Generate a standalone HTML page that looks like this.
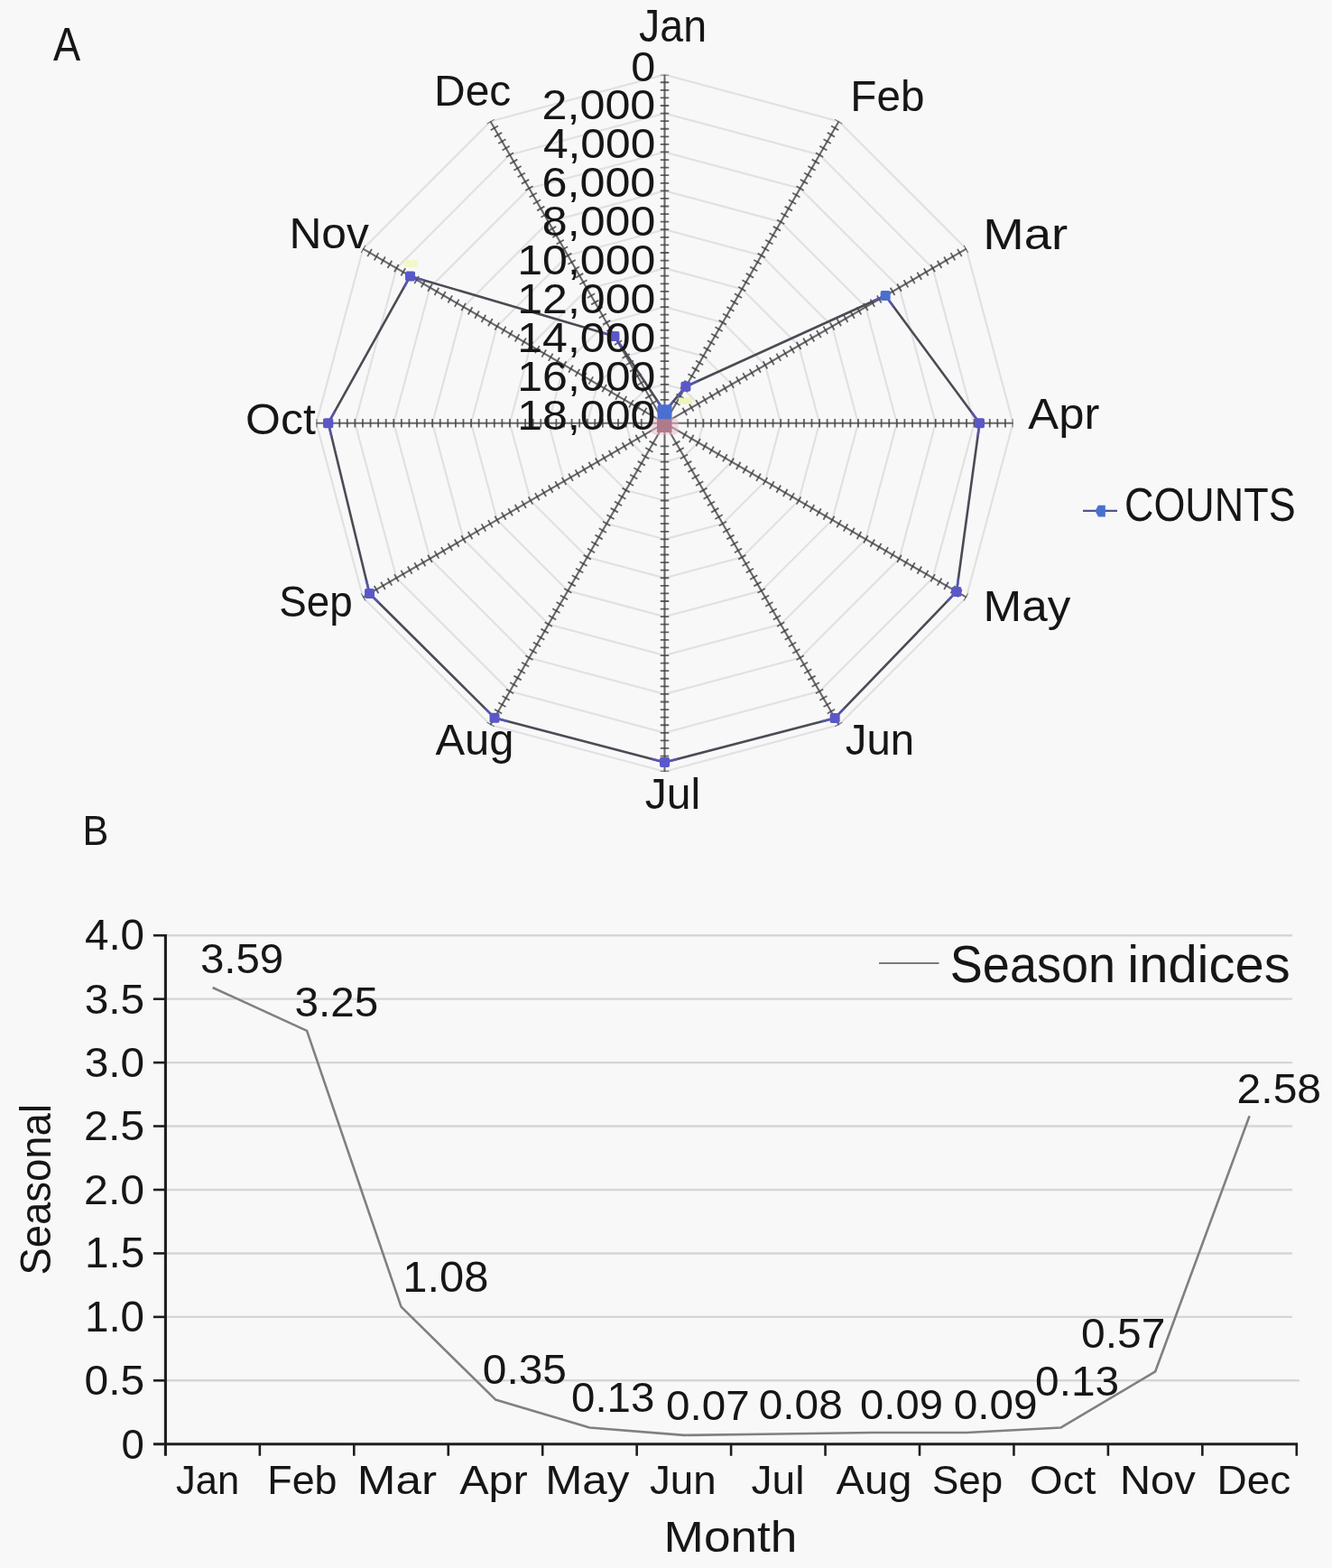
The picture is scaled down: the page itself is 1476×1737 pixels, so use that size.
<!DOCTYPE html>
<html><head><meta charset="utf-8"><title>Figure</title>
<style>html,body{margin:0;padding:0;background:#f8f8f8;}svg{display:block}text{font-family:"Liberation Sans",sans-serif;}</style>
</head><body>
<svg width="1476" height="1737" viewBox="0 0 1476 1737">
<rect width="1476" height="1737" fill="#f8f8f8"/>
<polygon points="736.50,82.70 929.50,134.41 1070.79,275.70 1122.50,468.70 1070.79,661.70 929.50,802.99 736.50,854.70 543.50,802.99 402.21,661.70 350.50,468.70 402.21,275.70 543.50,134.41" fill="none" stroke="#e1e1e1" stroke-width="2.2"/>
<polygon points="736.50,125.59 908.06,171.56 1033.64,297.14 1079.61,468.70 1033.64,640.26 908.06,765.84 736.50,811.81 564.94,765.84 439.36,640.26 393.39,468.70 439.36,297.14 564.94,171.56" fill="none" stroke="#e1e1e1" stroke-width="2.2"/>
<polygon points="736.50,168.48 886.61,208.70 996.50,318.59 1036.72,468.70 996.50,618.81 886.61,728.70 736.50,768.92 586.39,728.70 476.50,618.81 436.28,468.70 476.50,318.59 586.39,208.70" fill="none" stroke="#e1e1e1" stroke-width="2.2"/>
<polygon points="736.50,211.37 865.17,245.84 959.36,340.03 993.83,468.70 959.36,597.37 865.17,691.56 736.50,726.03 607.83,691.56 513.64,597.37 479.17,468.70 513.64,340.03 607.83,245.84" fill="none" stroke="#e1e1e1" stroke-width="2.2"/>
<polygon points="736.50,254.26 843.72,282.99 922.21,361.48 950.94,468.70 922.21,575.92 843.72,654.41 736.50,683.14 629.28,654.41 550.79,575.92 522.06,468.70 550.79,361.48 629.28,282.99" fill="none" stroke="#e1e1e1" stroke-width="2.2"/>
<polygon points="736.50,297.14 822.28,320.13 885.07,382.92 908.06,468.70 885.07,554.48 822.28,617.27 736.50,640.26 650.72,617.27 587.93,554.48 564.94,468.70 587.93,382.92 650.72,320.13" fill="none" stroke="#e1e1e1" stroke-width="2.2"/>
<polygon points="736.50,340.03 800.83,357.27 847.93,404.37 865.17,468.70 847.93,533.03 800.83,580.13 736.50,597.37 672.17,580.13 625.07,533.03 607.83,468.70 625.07,404.37 672.17,357.27" fill="none" stroke="#e1e1e1" stroke-width="2.2"/>
<polygon points="736.50,382.92 779.39,394.41 810.79,425.81 822.28,468.70 810.79,511.59 779.39,542.99 736.50,554.48 693.61,542.99 662.21,511.59 650.72,468.70 662.21,425.81 693.61,394.41" fill="none" stroke="#e1e1e1" stroke-width="2.2"/>
<polygon points="736.50,425.81 757.94,431.56 773.64,447.26 779.39,468.70 773.64,490.14 757.94,505.84 736.50,511.59 715.06,505.84 699.36,490.14 693.61,468.70 699.36,447.26 715.06,431.56" fill="none" stroke="#e1e1e1" stroke-width="2.2"/>
<line x1="736.5" y1="468.7" x2="736.50" y2="82.70" stroke="#6a6a6e" stroke-width="2.1"/>
<line x1="736.50" y1="443.87" x2="736.50" y2="82.70" stroke="#3c3c40" stroke-opacity="0.8" stroke-width="9.5" stroke-dasharray="1.8 6.778"/>
<line x1="736.5" y1="468.7" x2="929.50" y2="134.41" stroke="#6a6a6e" stroke-width="2.1"/>
<line x1="748.92" y1="447.19" x2="929.50" y2="134.41" stroke="#3c3c40" stroke-opacity="0.8" stroke-width="9.5" stroke-dasharray="1.8 6.778"/>
<line x1="736.5" y1="468.7" x2="1070.79" y2="275.70" stroke="#6a6a6e" stroke-width="2.1"/>
<line x1="758.01" y1="456.28" x2="1070.79" y2="275.70" stroke="#3c3c40" stroke-opacity="0.8" stroke-width="9.5" stroke-dasharray="1.8 6.778"/>
<line x1="736.5" y1="468.7" x2="1122.50" y2="468.70" stroke="#6a6a6e" stroke-width="2.1"/>
<line x1="761.33" y1="468.70" x2="1122.50" y2="468.70" stroke="#3c3c40" stroke-opacity="0.8" stroke-width="9.5" stroke-dasharray="1.8 6.778"/>
<line x1="736.5" y1="468.7" x2="1070.79" y2="661.70" stroke="#6a6a6e" stroke-width="2.1"/>
<line x1="758.01" y1="481.12" x2="1070.79" y2="661.70" stroke="#3c3c40" stroke-opacity="0.8" stroke-width="9.5" stroke-dasharray="1.8 6.778"/>
<line x1="736.5" y1="468.7" x2="929.50" y2="802.99" stroke="#6a6a6e" stroke-width="2.1"/>
<line x1="748.92" y1="490.21" x2="929.50" y2="802.99" stroke="#3c3c40" stroke-opacity="0.8" stroke-width="9.5" stroke-dasharray="1.8 6.778"/>
<line x1="736.5" y1="468.7" x2="736.50" y2="854.70" stroke="#6a6a6e" stroke-width="2.1"/>
<line x1="736.50" y1="493.53" x2="736.50" y2="854.70" stroke="#3c3c40" stroke-opacity="0.8" stroke-width="9.5" stroke-dasharray="1.8 6.778"/>
<line x1="736.5" y1="468.7" x2="543.50" y2="802.99" stroke="#6a6a6e" stroke-width="2.1"/>
<line x1="724.08" y1="490.21" x2="543.50" y2="802.99" stroke="#3c3c40" stroke-opacity="0.8" stroke-width="9.5" stroke-dasharray="1.8 6.778"/>
<line x1="736.5" y1="468.7" x2="402.21" y2="661.70" stroke="#6a6a6e" stroke-width="2.1"/>
<line x1="714.99" y1="481.12" x2="402.21" y2="661.70" stroke="#3c3c40" stroke-opacity="0.8" stroke-width="9.5" stroke-dasharray="1.8 6.778"/>
<line x1="736.5" y1="468.7" x2="350.50" y2="468.70" stroke="#6a6a6e" stroke-width="2.1"/>
<line x1="711.67" y1="468.70" x2="350.50" y2="468.70" stroke="#3c3c40" stroke-opacity="0.8" stroke-width="9.5" stroke-dasharray="1.8 6.778"/>
<line x1="736.5" y1="468.7" x2="402.21" y2="275.70" stroke="#6a6a6e" stroke-width="2.1"/>
<line x1="714.99" y1="456.28" x2="402.21" y2="275.70" stroke="#3c3c40" stroke-opacity="0.8" stroke-width="9.5" stroke-dasharray="1.8 6.778"/>
<line x1="736.5" y1="468.7" x2="543.50" y2="134.41" stroke="#6a6a6e" stroke-width="2.1"/>
<line x1="724.08" y1="447.19" x2="543.50" y2="134.41" stroke="#3c3c40" stroke-opacity="0.8" stroke-width="9.5" stroke-dasharray="1.8 6.778"/>
<polygon points="736.50,456.20 759.90,428.17 981.15,327.45 1085.50,468.70 1059.96,655.45 925.15,795.45 736.50,844.50 548.00,795.19 409.49,657.50 363.80,468.70 454.52,305.90 681.00,372.57" fill="none" stroke="#4b4b55" stroke-width="2.6" stroke-linejoin="round"/>
<rect x="721.5" y="462.7" width="30" height="19" rx="5" fill="#e9b8c4" opacity="0.5"/>
<rect x="728.0" y="464.0" width="16.5" height="15" fill="#b07a8c"/>
<line x1="736.50" y1="456.20" x2="728.21" y2="443.70" stroke="#5a58c8" stroke-width="2.6" stroke-opacity="0.75"/>
<line x1="736.50" y1="456.20" x2="745.86" y2="444.99" stroke="#5a58c8" stroke-width="2.6" stroke-opacity="0.75"/>
<line x1="759.90" y1="428.17" x2="750.54" y2="439.38" stroke="#5a58c8" stroke-width="2.6" stroke-opacity="0.75"/>
<line x1="759.90" y1="428.17" x2="773.55" y2="421.96" stroke="#5a58c8" stroke-width="2.6" stroke-opacity="0.75"/>
<line x1="981.15" y1="327.45" x2="967.50" y2="333.66" stroke="#5a58c8" stroke-width="2.6" stroke-opacity="0.75"/>
<line x1="981.15" y1="327.45" x2="990.07" y2="339.51" stroke="#5a58c8" stroke-width="2.6" stroke-opacity="0.75"/>
<line x1="1085.50" y1="468.70" x2="1076.59" y2="456.64" stroke="#5a58c8" stroke-width="2.6" stroke-opacity="0.75"/>
<line x1="1085.50" y1="468.70" x2="1083.47" y2="483.56" stroke="#5a58c8" stroke-width="2.6" stroke-opacity="0.75"/>
<line x1="1059.96" y1="655.45" x2="1061.99" y2="640.59" stroke="#5a58c8" stroke-width="2.6" stroke-opacity="0.75"/>
<line x1="1059.96" y1="655.45" x2="1049.56" y2="666.26" stroke="#5a58c8" stroke-width="2.6" stroke-opacity="0.75"/>
<line x1="925.15" y1="795.45" x2="935.55" y2="784.65" stroke="#5a58c8" stroke-width="2.6" stroke-opacity="0.75"/>
<line x1="925.15" y1="795.45" x2="910.63" y2="799.23" stroke="#5a58c8" stroke-width="2.6" stroke-opacity="0.75"/>
<line x1="736.50" y1="844.50" x2="751.02" y2="840.73" stroke="#5a58c8" stroke-width="2.6" stroke-opacity="0.75"/>
<line x1="736.50" y1="844.50" x2="721.99" y2="840.70" stroke="#5a58c8" stroke-width="2.6" stroke-opacity="0.75"/>
<line x1="548.00" y1="795.19" x2="562.51" y2="798.99" stroke="#5a58c8" stroke-width="2.6" stroke-opacity="0.75"/>
<line x1="548.00" y1="795.19" x2="537.36" y2="784.62" stroke="#5a58c8" stroke-width="2.6" stroke-opacity="0.75"/>
<line x1="409.49" y1="657.50" x2="420.13" y2="668.08" stroke="#5a58c8" stroke-width="2.6" stroke-opacity="0.75"/>
<line x1="409.49" y1="657.50" x2="405.96" y2="642.92" stroke="#5a58c8" stroke-width="2.6" stroke-opacity="0.75"/>
<line x1="363.80" y1="468.70" x2="367.33" y2="483.28" stroke="#5a58c8" stroke-width="2.6" stroke-opacity="0.75"/>
<line x1="363.80" y1="468.70" x2="371.10" y2="455.60" stroke="#5a58c8" stroke-width="2.6" stroke-opacity="0.75"/>
<line x1="454.52" y1="305.90" x2="447.22" y2="319.00" stroke="#5a58c8" stroke-width="2.6" stroke-opacity="0.75"/>
<line x1="454.52" y1="305.90" x2="468.91" y2="310.14" stroke="#5a58c8" stroke-width="2.6" stroke-opacity="0.75"/>
<line x1="681.00" y1="372.57" x2="666.61" y2="368.34" stroke="#5a58c8" stroke-width="2.6" stroke-opacity="0.75"/>
<line x1="681.00" y1="372.57" x2="689.29" y2="385.07" stroke="#5a58c8" stroke-width="2.6" stroke-opacity="0.75"/>
<rect x="728.50" y="448.20" width="16" height="16" rx="2" fill="#4a6fd0"/>
<rect x="754.40" y="422.67" width="11" height="11" rx="2" fill="#5a58c8"/>
<rect x="975.65" y="321.95" width="11" height="11" rx="2" fill="#4a6fd0"/>
<rect x="1080.00" y="463.20" width="11" height="11" rx="2" fill="#5a58c8"/>
<rect x="1054.46" y="649.95" width="11" height="11" rx="2" fill="#5a58c8"/>
<rect x="919.65" y="789.95" width="11" height="11" rx="2" fill="#5a58c8"/>
<rect x="731.00" y="839.00" width="11" height="11" rx="2" fill="#5a58c8"/>
<rect x="542.50" y="789.69" width="11" height="11" rx="2" fill="#5a58c8"/>
<rect x="403.99" y="652.00" width="11" height="11" rx="2" fill="#5a58c8"/>
<rect x="358.30" y="463.20" width="11" height="11" rx="2" fill="#5a58c8"/>
<rect x="449.02" y="300.40" width="11" height="11" rx="2" fill="#5a58c8"/>
<rect x="675.50" y="367.07" width="11" height="11" rx="2" fill="#5a58c8"/>
<rect x="752" y="440.5" width="15" height="7" fill="#eef3b4" opacity="0.9"/>
<rect x="448" y="288" width="15" height="8" fill="#f3f6c4" opacity="0.9"/>
<text transform="translate(699.36,89.60) scale(1.0525,1)" font-size="46.16" fill="#161616">0</text>
<text transform="translate(600.48,132.49) scale(1.0898,1)" font-size="46.16" fill="#161616">2,000</text>
<text transform="translate(601.88,175.38) scale(1.0621,1)" font-size="46.84" fill="#161616">4,000</text>
<text transform="translate(600.48,218.27) scale(1.0898,1)" font-size="46.16" fill="#161616">6,000</text>
<text transform="translate(600.87,261.16) scale(1.0864,1)" font-size="46.16" fill="#161616">8,000</text>
<text transform="translate(573.24,304.04) scale(1.0694,1)" font-size="46.84" fill="#161616">10,000</text>
<text transform="translate(573.24,346.93) scale(1.0694,1)" font-size="46.84" fill="#161616">12,000</text>
<text transform="translate(573.24,389.82) scale(1.0694,1)" font-size="46.84" fill="#161616">14,000</text>
<text transform="translate(573.24,432.71) scale(1.0694,1)" font-size="46.84" fill="#161616">16,000</text>
<text transform="translate(573.24,475.60) scale(1.0694,1)" font-size="46.84" fill="#161616">18,000</text>
<text transform="translate(708.00,45.50) scale(0.9353,1)" font-size="49.75" fill="#161616">Jan</text>
<text transform="translate(942.32,122.50) scale(0.9928,1)" font-size="48.00" fill="#161616">Feb</text>
<text transform="translate(1089.24,275.50) scale(1.1208,1)" font-size="48.73" fill="#161616">Mar</text>
<text transform="translate(1139.37,475.00) scale(1.0732,1)" font-size="47.27" fill="#161616">Apr</text>
<text transform="translate(1089.52,688.25) scale(1.0596,1)" font-size="48.36" fill="#161616">May</text>
<text transform="translate(936.79,835.50) scale(0.9856,1)" font-size="48.00" fill="#161616">Jun</text>
<text transform="translate(714.78,895.50) scale(0.9816,1)" font-size="49.02" fill="#161616">Jul</text>
<text transform="translate(482.38,835.50) scale(1.0189,1)" font-size="48.00" fill="#161616">Aug</text>
<text transform="translate(309.19,682.50) scale(0.9463,1)" font-size="48.39" fill="#161616">Sep</text>
<text transform="translate(272.12,481.25) scale(1.0333,1)" font-size="48.39" fill="#161616">Oct</text>
<text transform="translate(320.39,275.00) scale(1.0371,1)" font-size="48.00" fill="#161616">Nov</text>
<text transform="translate(481.04,117.00) scale(0.9920,1)" font-size="48.36" fill="#161616">Dec</text>
<text transform="translate(58.89,67.00) scale(0.8895,1)" font-size="50.91" fill="#161616">A</text>
<line x1="1200" y1="565.8" x2="1238" y2="565.8" stroke="#54548c" stroke-width="2.2"/>
<polygon points="1213.5,566 1217,559.8 1224.8,559.8 1224.8,572.4 1217,572.4" fill="#4a6fd0"/>
<text transform="translate(1245.95,577.20) scale(0.8683,1)" font-size="51.76" fill="#161616">COUNTS</text>
<line x1="183.4" y1="1529.31" x2="1440" y2="1529.31" stroke="#d6d6d6" stroke-width="2.4"/>
<line x1="183.4" y1="1458.87" x2="1432" y2="1458.87" stroke="#d6d6d6" stroke-width="2.4"/>
<line x1="183.4" y1="1388.43" x2="1432" y2="1388.43" stroke="#d6d6d6" stroke-width="2.4"/>
<line x1="183.4" y1="1317.99" x2="1432" y2="1317.99" stroke="#d6d6d6" stroke-width="2.4"/>
<line x1="183.4" y1="1247.55" x2="1432" y2="1247.55" stroke="#d6d6d6" stroke-width="2.4"/>
<line x1="183.4" y1="1177.11" x2="1432" y2="1177.11" stroke="#d6d6d6" stroke-width="2.4"/>
<line x1="183.4" y1="1106.67" x2="1432" y2="1106.67" stroke="#d6d6d6" stroke-width="2.4"/>
<line x1="183.4" y1="1036.23" x2="1432" y2="1036.23" stroke="#d6d6d6" stroke-width="2.4"/>
<line x1="183.4" y1="1034.93" x2="183.4" y2="1612.75" stroke="#1e1e1e" stroke-width="3.1"/>
<line x1="169.9" y1="1599.75" x2="1438.1" y2="1599.75" stroke="#1e1e1e" stroke-width="3.1"/>
<line x1="169.9" y1="1529.31" x2="183.4" y2="1529.31" stroke="#1e1e1e" stroke-width="2.6"/>
<line x1="169.9" y1="1458.87" x2="183.4" y2="1458.87" stroke="#1e1e1e" stroke-width="2.6"/>
<line x1="169.9" y1="1388.43" x2="183.4" y2="1388.43" stroke="#1e1e1e" stroke-width="2.6"/>
<line x1="169.9" y1="1317.99" x2="183.4" y2="1317.99" stroke="#1e1e1e" stroke-width="2.6"/>
<line x1="169.9" y1="1247.55" x2="183.4" y2="1247.55" stroke="#1e1e1e" stroke-width="2.6"/>
<line x1="169.9" y1="1177.11" x2="183.4" y2="1177.11" stroke="#1e1e1e" stroke-width="2.6"/>
<line x1="169.9" y1="1106.67" x2="183.4" y2="1106.67" stroke="#1e1e1e" stroke-width="2.6"/>
<line x1="169.9" y1="1036.23" x2="183.4" y2="1036.23" stroke="#1e1e1e" stroke-width="2.6"/>
<line x1="287.85" y1="1599.75" x2="287.85" y2="1612.75" stroke="#1e1e1e" stroke-width="2.6"/>
<line x1="392.30" y1="1599.75" x2="392.30" y2="1612.75" stroke="#1e1e1e" stroke-width="2.6"/>
<line x1="496.75" y1="1599.75" x2="496.75" y2="1612.75" stroke="#1e1e1e" stroke-width="2.6"/>
<line x1="601.20" y1="1599.75" x2="601.20" y2="1612.75" stroke="#1e1e1e" stroke-width="2.6"/>
<line x1="705.65" y1="1599.75" x2="705.65" y2="1612.75" stroke="#1e1e1e" stroke-width="2.6"/>
<line x1="810.10" y1="1599.75" x2="810.10" y2="1612.75" stroke="#1e1e1e" stroke-width="2.6"/>
<line x1="914.55" y1="1599.75" x2="914.55" y2="1612.75" stroke="#1e1e1e" stroke-width="2.6"/>
<line x1="1019.00" y1="1599.75" x2="1019.00" y2="1612.75" stroke="#1e1e1e" stroke-width="2.6"/>
<line x1="1123.45" y1="1599.75" x2="1123.45" y2="1612.75" stroke="#1e1e1e" stroke-width="2.6"/>
<line x1="1227.90" y1="1599.75" x2="1227.90" y2="1612.75" stroke="#1e1e1e" stroke-width="2.6"/>
<line x1="1332.35" y1="1599.75" x2="1332.35" y2="1612.75" stroke="#1e1e1e" stroke-width="2.6"/>
<line x1="1436.80" y1="1599.75" x2="1436.80" y2="1612.75" stroke="#1e1e1e" stroke-width="2.6"/>
<polyline points="235.62,1093.99 340.07,1141.89 444.52,1447.60 548.97,1550.44 653.42,1581.44 757.87,1589.89 862.32,1588.48 966.77,1587.07 1071.22,1587.07 1175.67,1581.44 1280.12,1519.45 1384.58,1236.28" fill="none" stroke="#808080" stroke-width="2.6" stroke-linejoin="round"/>
<text transform="translate(134.43,1616.25) scale(0.9928,1)" font-size="45.88" fill="#161616">0</text>
<text transform="translate(93.58,1545.21) scale(1.0257,1)" font-size="46.74" fill="#161616">0.5</text>
<text transform="translate(93.93,1474.77) scale(1.0037,1)" font-size="47.42" fill="#161616">1.0</text>
<text transform="translate(93.92,1404.33) scale(1.0057,1)" font-size="47.42" fill="#161616">1.5</text>
<text transform="translate(93.09,1333.89) scale(1.0316,1)" font-size="46.74" fill="#161616">2.0</text>
<text transform="translate(93.08,1263.45) scale(1.0336,1)" font-size="46.74" fill="#161616">2.5</text>
<text transform="translate(93.71,1193.01) scale(1.0218,1)" font-size="46.74" fill="#161616">3.0</text>
<text transform="translate(93.71,1122.57) scale(1.0237,1)" font-size="46.74" fill="#161616">3.5</text>
<text transform="translate(93.93,1052.13) scale(1.0037,1)" font-size="47.42" fill="#161616">4.0</text>
<text transform="translate(195.10,1655.00) scale(0.9722,1)" font-size="44.80" fill="#161616">Jan</text>
<text transform="translate(296.30,1655.00) scale(1.0003,1)" font-size="44.80" fill="#161616">Feb</text>
<text transform="translate(395.77,1655.00) scale(1.1442,1)" font-size="44.80" fill="#161616">Mar</text>
<text transform="translate(509.18,1655.00) scale(1.0845,1)" font-size="44.80" fill="#161616">Apr</text>
<text transform="translate(604.23,1655.00) scale(1.1006,1)" font-size="44.80" fill="#161616">May</text>
<text transform="translate(720.01,1655.00) scale(1.0196,1)" font-size="44.80" fill="#161616">Jun</text>
<text transform="translate(832.61,1655.00) scale(1.0273,1)" font-size="44.80" fill="#161616">Jul</text>
<text transform="translate(926.58,1655.00) scale(1.0506,1)" font-size="44.80" fill="#161616">Aug</text>
<text transform="translate(1033.02,1655.00) scale(0.9942,1)" font-size="44.16" fill="#161616">Sep</text>
<text transform="translate(1141.06,1655.00) scale(1.0674,1)" font-size="44.16" fill="#161616">Oct</text>
<text transform="translate(1241.12,1655.00) scale(1.0511,1)" font-size="44.80" fill="#161616">Nov</text>
<text transform="translate(1348.51,1655.00) scale(1.0267,1)" font-size="44.80" fill="#161616">Dec</text>
<text transform="translate(735.61,1719.30) scale(1.1215,1)" font-size="47.42" fill="#161616">Month</text>
<text transform="translate(91.44,936.25) scale(0.9353,1)" font-size="46.18" fill="#161616">B</text>
<text transform="translate(55.50,1412.55) rotate(-90) scale(0.9468,1)" font-size="48.03" fill="#161616">Seasonal</text>
<text transform="translate(221.97,1078.25) scale(1.0169,1)" font-size="46.59" fill="#161616">3.59</text>
<text transform="translate(326.51,1126.00) scale(1.0228,1)" font-size="46.59" fill="#161616">3.25</text>
<text transform="translate(446.34,1431.00) scale(1.0337,1)" font-size="47.27" fill="#161616">1.08</text>
<text transform="translate(534.78,1533.30) scale(1.0276,1)" font-size="46.59" fill="#161616">0.35</text>
<text transform="translate(633.10,1564.30) scale(1.0175,1)" font-size="46.59" fill="#161616">0.13</text>
<text transform="translate(738.10,1572.70) scale(1.0216,1)" font-size="46.59" fill="#161616">0.07</text>
<text transform="translate(840.79,1571.70) scale(1.0255,1)" font-size="46.59" fill="#161616">0.08</text>
<text transform="translate(953.11,1571.70) scale(1.0119,1)" font-size="46.59" fill="#161616">0.09</text>
<text transform="translate(1056.69,1571.70) scale(1.0258,1)" font-size="46.59" fill="#161616">0.09</text>
<text transform="translate(1147.09,1546.00) scale(1.0255,1)" font-size="46.59" fill="#161616">0.13</text>
<text transform="translate(1198.08,1492.70) scale(1.0297,1)" font-size="46.59" fill="#161616">0.57</text>
<text transform="translate(1370.60,1221.70) scale(1.0311,1)" font-size="46.59" fill="#161616">2.58</text>
<line x1="974" y1="1067" x2="1040.5" y2="1067" stroke="#7c7c7c" stroke-width="2.2"/>
<text y="1087.80" font-size="57.63" fill="#161616"><tspan x="1052.87" textLength="183.09" lengthAdjust="spacingAndGlyphs">Season</tspan> <tspan x="1249.29" textLength="180.36" lengthAdjust="spacingAndGlyphs">indices</tspan></text>
</svg>
</body></html>
